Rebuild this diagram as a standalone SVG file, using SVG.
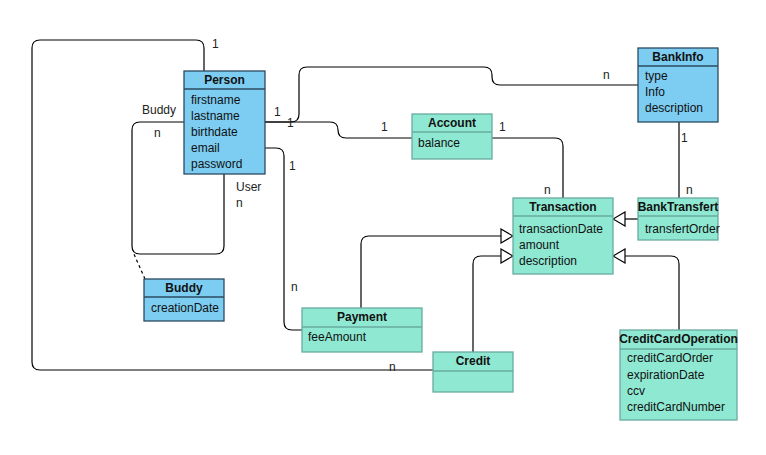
<svg xmlns="http://www.w3.org/2000/svg" width="766" height="455" viewBox="0 0 766 455">
<style>
text{font-family:"Liberation Sans",Arial,sans-serif;font-size:12px;fill:#111}
.h{font-weight:bold;text-anchor:middle}
.lbl{fill:#222}
.blue{fill:#7DCDF2;stroke:#2B4A60;stroke-width:1.3}
.teal{fill:#8FE8D2;stroke:#67AB9F;stroke-width:1.3}
.sepb{stroke:#2B4A60;stroke-width:1.3}
.sept{stroke:#67AB9F;stroke-width:1.3}
.c{fill:none;stroke:#000;stroke-width:1.2}
</style>
<defs>
<marker id="gen" markerWidth="14" markerHeight="16" refX="13" refY="8" orient="auto" markerUnits="userSpaceOnUse">
<path d="M1,1 L13,8 L1,15 Z" fill="#fff" stroke="#000" stroke-width="1.2"/>
</marker>
</defs>
<rect width="766" height="455" fill="#fff"/>
<g id="connectors">
<path class="c" d="M204,71 V48 Q204,40 196,40 H40 Q32,40 32,48 V362 Q32,370 40,370 H433"/>
<path class="c" d="M184,122 H140 Q132,122 132,130 V246 Q132,254 140,254 H216 Q224,254 224,246 V174"/>
<path class="c" d="M145,279 L133,252" stroke-dasharray="3,3"/>
<path class="c" d="M265,122 H291 Q299,122 299,114 V75 Q299,67 307,67 H484 Q492,67 492,75 V77 Q492,85 500,85 H638"/>
<path class="c" d="M265,122 H330 Q338,122 338,130 Q338,138 346,138 H412"/>
<path class="c" d="M265,148 H276 Q284,148 284,156 V322 Q284,330 292,330 H302"/>
<path class="c" d="M492,138 H555 Q563,138 563,146 V198"/>
<path class="c" d="M679,122 V198"/>
<path class="c" d="M638,219 H613" marker-end="url(#gen)"/>
<path class="c" d="M361,308 V244 Q361,236 369,236 H513" marker-end="url(#gen)"/>
<path class="c" d="M473,352 V264 Q473,256 481,256 H513" marker-end="url(#gen)"/>
<path class="c" d="M679,330 V264 Q679,256 671,256 H613" marker-end="url(#gen)"/>
<text class="lbl" x="212" y="48">1</text>
<text class="lbl" x="389" y="371">n</text>
<text class="lbl" x="142" y="114">Buddy</text>
<text class="lbl" x="154" y="137">n</text>
<text class="lbl" x="236" y="191">User</text>
<text class="lbl" x="236" y="207">n</text>
<text class="lbl" x="274" y="116">1</text>
<text class="lbl" x="287" y="127">1</text>
<text class="lbl" x="381" y="131">1</text>
<text class="lbl" x="289" y="170">1</text>
<text class="lbl" x="291" y="291">n</text>
<text class="lbl" x="603" y="79">n</text>
<text class="lbl" x="499" y="131">1</text>
<text class="lbl" x="544" y="194">n</text>
<text class="lbl" x="681" y="142">1</text>
<text class="lbl" x="686" y="194">n</text>
</g>
<g id="person">
<rect class="blue" x="184" y="71" width="81" height="103"/>
<line class="sepb" x1="184" y1="89" x2="265" y2="89"/>
<text class="h" x="224.5" y="84">Person</text>
<text x="191" y="104">firstname</text>
<text x="191" y="120">lastname</text>
<text x="191" y="136">birthdate</text>
<text x="191" y="152">email</text>
<text x="191" y="168">password</text>
</g>
<g id="buddy">
<rect class="blue" x="144" y="279" width="80" height="42"/>
<line class="sepb" x1="144" y1="297" x2="224" y2="297"/>
<text class="h" x="184" y="292">Buddy</text>
<text x="151" y="312">creationDate</text>
</g>
<g id="bankinfo">
<rect class="blue" x="638" y="48" width="80" height="74"/>
<line class="sepb" x1="638" y1="66" x2="718" y2="66"/>
<text class="h" x="678" y="61">BankInfo</text>
<text x="645" y="80">type</text>
<text x="645" y="96">Info</text>
<text x="645" y="112">description</text>
</g>
<g id="account">
<rect class="teal" x="412" y="114" width="80" height="45"/>
<line class="sept" x1="412" y1="132" x2="492" y2="132"/>
<text class="h" x="452" y="127">Account</text>
<text x="418" y="147">balance</text>
</g>
<g id="transaction">
<rect class="teal" x="513" y="198" width="100" height="76"/>
<line class="sept" x1="513" y1="216" x2="613" y2="216"/>
<text class="h" x="563" y="211">Transaction</text>
<text x="519" y="233">transactionDate</text>
<text x="519" y="249">amount</text>
<text x="519" y="265">description</text>
</g>
<g id="banktransfert">
<rect class="teal" x="638" y="198" width="80" height="42"/>
<line class="sept" x1="638" y1="216" x2="718" y2="216"/>
<text class="h" x="678" y="211">BankTransfert</text>
<text x="645" y="233">transfertOrder</text>
</g>
<g id="payment">
<rect class="teal" x="302" y="308" width="120" height="44"/>
<line class="sept" x1="302" y1="327" x2="422" y2="327"/>
<text class="h" x="362" y="321">Payment</text>
<text x="308" y="341">feeAmount</text>
</g>
<g id="credit">
<rect class="teal" x="433" y="352" width="80" height="40"/>
<line class="sept" x1="433" y1="371" x2="513" y2="371"/>
<text class="h" x="473" y="365">Credit</text>
</g>
<g id="creditcardoperation">
<rect class="teal" x="620" y="330" width="117" height="90"/>
<line class="sept" x1="620" y1="349" x2="737" y2="349"/>
<text class="h" x="678.5" y="343">CreditCardOperation</text>
<text x="627" y="362">creditCardOrder</text>
<text x="627" y="379">expirationDate</text>
<text x="627" y="395">ccv</text>
<text x="627" y="411">creditCardNumber</text>
</g>
</svg>
